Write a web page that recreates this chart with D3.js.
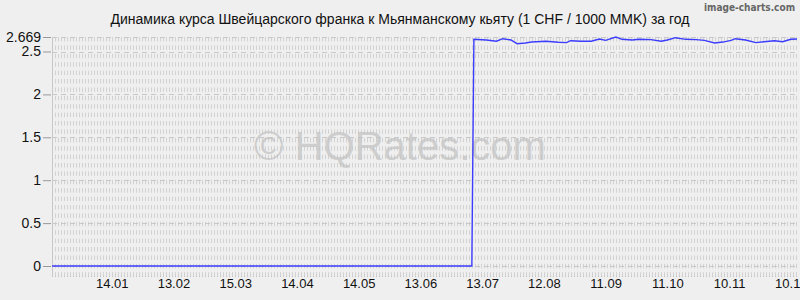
<!DOCTYPE html>
<html>
<head>
<meta charset="utf-8">
<script src="https://cdn.jsdelivr.net/npm/d3@7"></script>
<style>
  body { margin: 0; background: #efefef; }
  svg { display: block; }
</style>
</head>
<body>
<div class="graph"></div>
<script>
// CHF / MMK (1 CHF per 1000 MMK)
const dates = [
  "2012-12-16", "2013-07-08", "2013-07-09", "2013-07-15", "2013-07-20", "2013-07-23",
  "2013-07-27", "2013-07-30", "2013-08-03", "2013-08-06", "2013-08-13", "2013-08-19",
  "2013-08-23", "2013-08-25", "2013-08-30", "2013-09-04", "2013-09-08", "2013-09-11",
  "2013-09-16", "2013-09-19", "2013-09-24", "2013-09-27", "2013-10-03", "2013-10-08",
  "2013-10-11", "2013-10-15", "2013-10-20", "2013-10-25", "2013-10-29", "2013-11-03",
  "2013-11-07", "2013-11-11", "2013-11-13", "2013-11-18", "2013-11-23", "2013-11-27",
  "2013-12-02", "2013-12-06", "2013-12-10", "2013-12-13"
];
const rates = [
  0, 0, 2.642, 2.634, 2.620, 2.649,
  2.634, 2.591, 2.599, 2.610, 2.620, 2.607,
  2.603, 2.626, 2.619, 2.620, 2.646, 2.630,
  2.669, 2.642, 2.634, 2.642, 2.638, 2.619,
  2.634, 2.661, 2.642, 2.638, 2.630, 2.599,
  2.610, 2.630, 2.649, 2.634, 2.603, 2.614,
  2.626, 2.614, 2.642, 2.646
];
const xTicks = ["2013-01-14", "2013-02-13", "2013-03-15", "2013-04-14", "2013-05-14", "2013-06-13",
                "2013-07-13", "2013-08-12", "2013-09-11", "2013-10-11", "2013-11-10", "2013-12-10"];
const yTicks = [0, 0.5, 1, 1.5, 2, 2.5, 2.669];
const title = "Динамика курса Швейцарского франка к Мьянманскому кьяту (1 CHF / 1000 MMK) за год";

const parse = d3.timeParse("%Y-%m-%d");
const data = dates.map((d, i) => ({ date: parse(d), rate: rates[i] }));

const width = 800, height = 300;
const plotLeft = 52, plotRight = 797, plotTop = 37, zeroY = 266, plotBottom = 276;

const svg = d3.select(".graph").append("svg")
    .attr("width", width).attr("height", height)
    .style("font-family", "'Liberation Sans', Arial, sans-serif");

svg.append("rect").attr("width", width).attr("height", height).attr("fill", "#efefef");

const x = d3.scaleTime()
    .domain([parse("2012-12-16"), parse("2013-12-13")])
    .range([plotLeft, plotRight]);
const y = d3.scaleLinear()
    .domain([0, d3.max(rates)])
    .range([zeroY, plotTop]);

// dense dashed vertical grid
svg.append("g").selectAll("line")
    .data(d3.range(plotLeft + 3, plotRight, 3))
    .join("line")
    .attr("x1", d => d + 0.5).attr("x2", d => d + 0.5)
    .attr("y1", plotTop).attr("y2", plotBottom)
    .attr("stroke", "#d2d2d2")
    .attr("stroke-width", 1)
    .attr("stroke-dasharray", "4.5,3.9");

// horizontal grid at y ticks
svg.append("g").selectAll("line")
    .data(yTicks)
    .join("line")
    .attr("x1", plotLeft).attr("x2", plotRight)
    .attr("y1", d => Math.round(y(d)) + 0.5).attr("y2", d => Math.round(y(d)) + 0.5)
    .attr("stroke", "#c8c8c8")
    .attr("stroke-dasharray", "5,4");

// bottom dotted border
svg.append("line")
    .attr("x1", plotLeft).attr("x2", plotRight)
    .attr("y1", plotBottom + 0.5).attr("y2", plotBottom + 0.5)
    .attr("stroke", "#c4c4c4")
    .attr("stroke-dasharray", "1,2");

// left border
svg.append("line")
    .attr("x1", plotLeft + 0.5).attr("x2", plotLeft + 0.5)
    .attr("y1", plotTop).attr("y2", plotBottom)
    .attr("stroke", "#c8c8c8");

// watermark
svg.append("text")
    .attr("x", 400).attr("y", 160)
    .attr("text-anchor", "middle")
    .style("font-size", "40px")
    .attr("fill", "#c4c4c4")
    .attr("fill-opacity", 0.75)
    .text("© HQRates.com");

// y axis
const yAxis = d3.axisLeft(y).tickValues(yTicks).tickSize(8).tickPadding(2)
    .tickFormat(d => d === 2.669 ? "2.669" : d3.format("")(d));
svg.append("g")
    .attr("transform", "translate(" + (plotLeft - 1) + ",0)")
    .call(yAxis)
    .call(g => g.select(".domain").remove())
    .call(g => g.selectAll("line").attr("stroke", "#999"))
    .call(g => g.selectAll("text").style("font-size", "14px").attr("fill", "#111")
        .attr("font-family", "'Liberation Sans', Arial, sans-serif"));

// x axis labels
const xAxis = d3.axisBottom(x).tickValues(xTicks.map(parse)).tickSize(0).tickPadding(3)
    .tickFormat(d3.timeFormat("%d.%m"));
svg.append("g")
    .attr("transform", "translate(0," + plotBottom + ")")
    .call(xAxis)
    .call(g => g.select(".domain").remove())
    .call(g => g.selectAll("text").style("font-size", "13px").attr("fill", "#111")
        .attr("font-family", "'Liberation Sans', Arial, sans-serif"));

// rate line
const line = d3.line()
    .x(d => x(d.date))
    .y(d => y(d.rate));
svg.append("path")
    .attr("d", line(data))
    .attr("fill", "none")
    .attr("stroke", "#3c3cff")
    .attr("stroke-width", 1.4);

// title
svg.append("text")
    .attr("x", 400).attr("y", 24)
    .attr("text-anchor", "middle")
    .style("font-size", "14px")
    .attr("fill", "#111")
    .text(title);

svg.append("text")
    .attr("x", 795).attr("y", 11)
    .attr("text-anchor", "end")
    .style("font-family", "'DejaVu Sans Condensed', 'DejaVu Sans', sans-serif")
    .style("font-size", "10px")
    .style("font-weight", "bold")
    .attr("fill", "#666")
    .text("image-charts.com");
</script>
</body>
</html>
